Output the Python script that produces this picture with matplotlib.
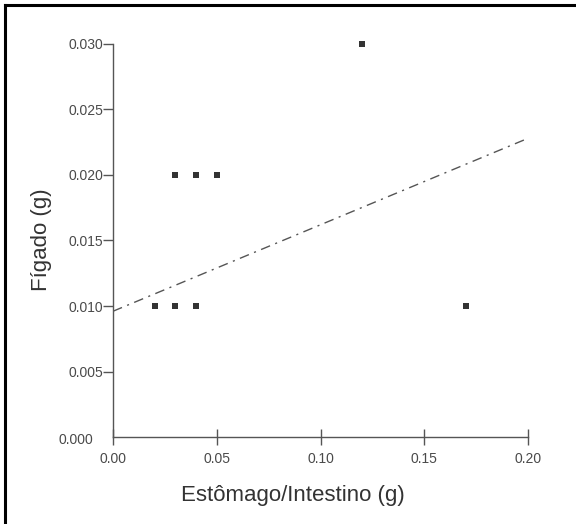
import matplotlib
matplotlib.use("Agg")
from matplotlib import pyplot as plt
from matplotlib.lines import Line2D
from matplotlib.transforms import ScaledTranslation

# data
estomago = [0.02, 0.03, 0.04, 0.03, 0.04, 0.05, 0.12, 0.17]
figado = [0.01, 0.01, 0.01, 0.02, 0.02, 0.02, 0.03, 0.01]
# fitted line, end points as drawn
fit_x = [0.0, 0.20]
fit_y = [0.0096, 0.0228]

x_ticks = [0.00, 0.05, 0.10, 0.15, 0.20]
y_ticks = [0.000, 0.005, 0.010, 0.015, 0.020, 0.025, 0.030]

axis_color = "#555555"
text_color = "#4a4a4a"
plt.rcParams["font.family"] = ["Liberation Sans", "DejaVu Sans"]

fig = plt.figure(figsize=(5.76, 5.24), dpi=100)
ax = fig.add_axes([113 / 576, 1 - 437 / 524, 415 / 576, 393 / 524])

ax.plot(fit_x, fit_y, color="#555555", lw=1.0, dashes=(7, 4, 1.5, 4), zorder=2)
ax.scatter(estomago, figado, marker="s", s=22, color="#333333", linewidths=0,
           zorder=3, clip_on=False)

ax.set_xlim(0, 0.20)
ax.set_ylim(0, 0.030)
ax.set_xticks(x_ticks)
ax.set_yticks(y_ticks)
ax.set_xticklabels(["%.2f" % v for v in x_ticks])
ax.set_yticklabels(["%.3f" % v for v in y_ticks])

for side in ["top", "right"]:
    ax.spines[side].set_visible(False)
for side in ["left", "bottom"]:
    ax.spines[side].set_color(axis_color)
    ax.spines[side].set_linewidth(1.0)

ax.tick_params(axis="x", direction="inout", length=11.5, width=1.0, pad=5,
               colors=axis_color, labelsize=10, labelcolor=text_color)
ax.tick_params(axis="y", direction="out", length=7.2, width=1.0, pad=0,
               colors=axis_color, labelsize=10, labelcolor=text_color)

# the 0.000 label has no tick mark and sits a little further left
t0 = ax.yaxis.get_major_ticks()[0]
t0.tick1line.set_visible(False)
t0.label1.set_transform(t0.label1.get_transform()
                        + ScaledTranslation(-10 / 100, -2 / 100, fig.dpi_scale_trans))

fig.text(293 / 576, 1 - 496 / 524, "Estômago/Intestino (g)", ha="center", va="center",
         fontsize=16, color="#333333")
fig.text(42 / 576, 1 - 240 / 524, "Fígado (g)", ha="center", va="center",
         rotation=90, fontsize=16, color="#333333")

# frame lines on the left and top of the picture
fig.add_artist(Line2D([5 / 576, 5 / 576], [0, 1 - 5 / 524], color="black", lw=2.2,
                      transform=fig.transFigure))
fig.add_artist(Line2D([5 / 576, 1], [1 - 5 / 524, 1 - 5 / 524], color="black", lw=2.2,
                      transform=fig.transFigure))

fig.savefig("out.png", dpi=100)
